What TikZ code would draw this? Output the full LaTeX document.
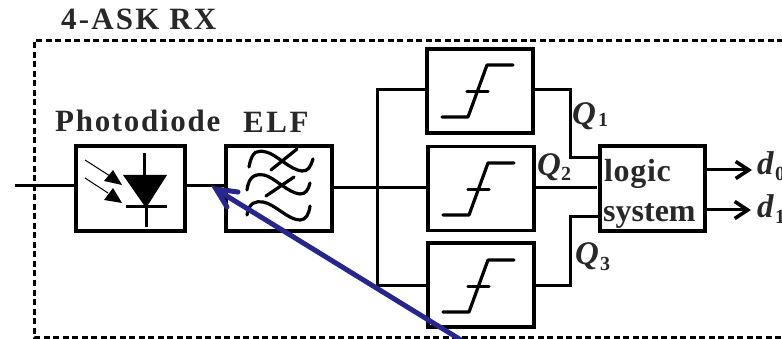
\documentclass[tikz,border=0pt]{standalone}
\usepackage{fontspec}
\usetikzlibrary{arrows.meta}
\setmainfont{Liberation Serif}
\definecolor{arrowblue}{RGB}{38,38,140}
\definecolor{labelgray}{RGB}{40,40,40}
\begin{document}
\begin{tikzpicture}[x=1pt,y=-1pt,
  blockbox/.style={draw,line width=3.2pt,minimum width=106pt,minimum height=84pt,inner sep=0pt,anchor=center},
  wire/.style={line width=3pt},
  thinw/.style={line width=3.2pt,line cap=round,line join=round},
  lbl/.style={font=\bfseries\fontsize{31}{31}\selectfont,text=labelgray,inner sep=0pt,anchor=base west},
  sym/.style={font=\bfseries\itshape\fontsize{33}{33}\selectfont,text=labelgray,inner sep=0pt,anchor=base west},
  sub/.style={font=\bfseries\fontsize{20}{20}\selectfont,text=labelgray,inner sep=0pt,anchor=base west},
  outtip/.style={-{Straight Barb[length=13pt,width=17pt,line width=3.6pt]}}]
\useasboundingbox (0,0) rectangle (782,339);
\draw[line width=3pt,dash pattern=on 6pt off 3.5pt] (783,41) -- (34,41) -- (34,337) -- (783,337);
\node[lbl] (title) at (61,30) {\addfontfeature{LetterSpace=7}4-ASK RX};
\node[lbl] (pdl) at (55,132) {\addfontfeature{LetterSpace=5.5}Photodiode};
\node[lbl] (elfl) at (243,133) {\addfontfeature{LetterSpace=8}ELF};
\node[blockbox,minimum width=109pt,minimum height=85pt] (pd) at (130.5,188.5) {};
\node[blockbox,minimum height=85pt] (elf) at (279,188.5) {};
\node[blockbox] (c1) at (480,91) {};
\node[blockbox] (c2) at (481,188.5) {};
\node[blockbox] (c3) at (481,285) {};
\node[blockbox,minimum width=105pt,minimum height=85pt] (lg) at (652.5,188.5) {};
\coordinate (in) at (15,186);
\coordinate (bt) at (377,90);
\coordinate (bb) at (377,285);
\coordinate (bm) at (377,188);
\coordinate (o0) at (752,170);
\coordinate (o1) at (751,210);
\draw[wire] (in) -- (in -| pd.west);
\draw[wire] (pd.east |- in) -- (elf.west |- in);
\draw[wire] (elf.east |- bm) -- (c2.west |- bm);
\draw[wire] (c1.west |- bt) -- (bt) -- (bb) -- (c3.west |- bb);
\draw[wire] (c1.east |- bt) -- (570,90) -- (570,158) -- (lg.west |- 570,158);
\draw[wire] (c2.east |- bm) -- (597,188);
\draw[wire] (c3.east |- bb) -- (570,285) -- (570,217) -- (lg.west |- 570,217);
\draw[wire,outtip] (lg.east |- o0) -- (o0);
\draw[wire,outtip] (lg.east |- o1) -- (o1);
% diode
\fill (123,175) -- (167,175) -- (146,208) -- cycle;
\draw[line width=3pt] (144,153) -- (144,175);
\draw[line width=3pt] (126,207) -- (167,207);
\draw[line width=3pt] (146,207) -- (146,227);
\draw[line width=1pt] (85,160) -- (110,176);
\draw[line width=1pt] (85,178) -- (108,193);
\fill (122,185) -- (104,181) -- (113,170) -- cycle;
\fill (122,203) -- (104,200) -- (113,188) -- cycle;
% filter
\draw[thinw] (249,167) .. controls (252,150) and (258,150) .. (266,152) .. controls (276,154) and (290,170) .. (302,171) .. controls (308,171) and (310,168) .. (313,159);
\draw[thinw] (271,170) -- (297,149);
\draw[thinw] (247,190) .. controls (249,175) and (256,174) .. (264,175) .. controls (274,177) and (288,193) .. (300,194) .. controls (306,194) and (308,190) .. (310,183);
\draw[thinw] (266,196) -- (294,177);
\draw[thinw] (247,215) .. controls (249,202) and (256,201) .. (263,202) .. controls (275,204) and (288,220) .. (300,220) .. controls (306,220) and (309,214) .. (310,206);
% comparators
\foreach \n/\dx/\dy in {c1/0/0,c2/1/98,c3/1/195}{
  \begin{scope}[shift={(\dx,\dy)}]
    \draw[thinw] (442,117) -- (468,117) -- (487,65) -- (513,65);
    \draw[thinw] (467,91.5) -- (488,91.5);
  \end{scope}}
\node[lbl,font=\bfseries\fontsize{32}{32}\selectfont] (lg1) at (604,182) {\addfontfeature{LetterSpace=2}logic};
\node[lbl,font=\bfseries\fontsize{32}{32}\selectfont] (lg2) at (603,222) {system};
\node[sym] (q1) at (572,125) {Q};
\node[sub] (q1s) at (598,127) {1};
\node[sym] (q2) at (537,176) {Q};
\node[sub] (q2s) at (561,181) {2};
\node[sym] (q3) at (575,265) {Q};
\node[sub] (q3s) at (600,270) {3};
\node[sym] (d0) at (757,175) {d};
\node[sub] (d0s) at (775,181) {0};
\node[sym] (d1) at (757,218) {d};
\node[sub] (d1s) at (775,224) {1};
\coordinate (as) at (461,340);
\coordinate (ae) at (217,190);
\draw[arrowblue,line width=5pt] (as) -- (ae);
\draw[arrowblue,line width=5pt,line cap=round,line join=miter] (238,192) -- (216,189) -- (227,207);
\end{tikzpicture}
\end{document}
